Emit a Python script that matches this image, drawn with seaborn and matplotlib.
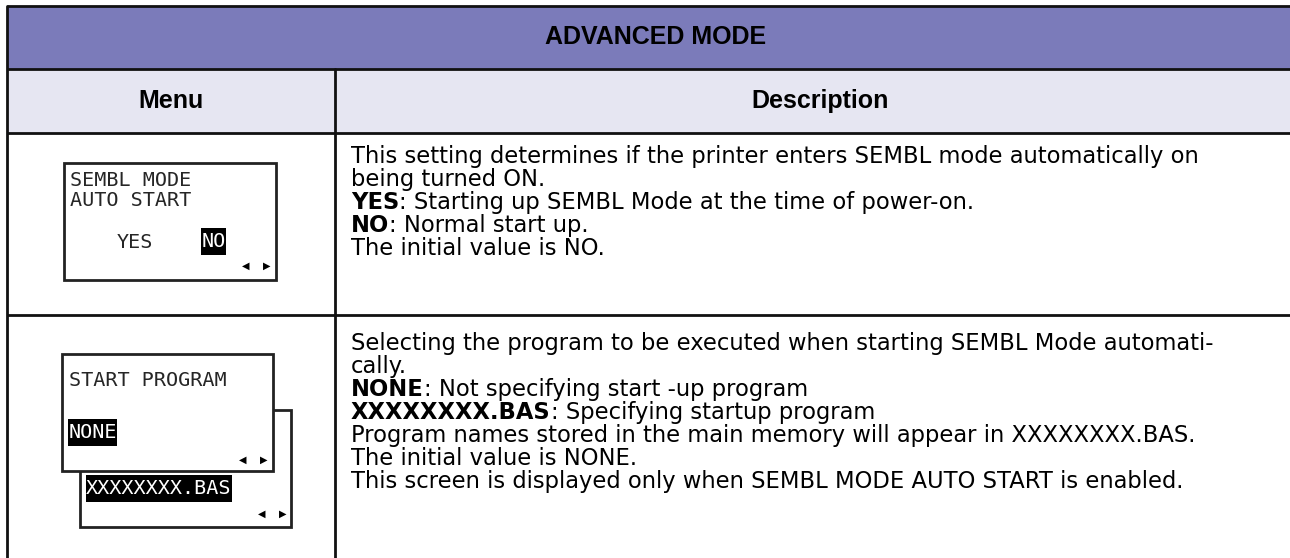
import matplotlib
matplotlib.use("Agg")
import matplotlib.pyplot as plt
from matplotlib.patches import Rectangle
import seaborn as sns

# table content
title = "ADVANCED MODE"
col_headers = ["Menu", "Description"]

lcd1_lines = ["SEMBL MODE", "AUTO START"]
lcd1_options = ["YES", "NO"]
desc1 = [
    ("", "This setting determines if the printer enters SEMBL mode automatically on"),
    ("", "being turned ON."),
    ("YES", ": Starting up SEMBL Mode at the time of power-on."),
    ("NO", ": Normal start up."),
    ("", "The initial value is NO."),
]

lcd2_title = "START PROGRAM"
lcd2_options = ["NONE", "XXXXXXXX.BAS"]
desc2 = [
    ("", "Selecting the program to be executed when starting SEMBL Mode automati-"),
    ("", "cally."),
    ("NONE", ": Not specifying start -up program"),
    ("XXXXXXXX.BAS", ": Specifying startup program"),
    ("", "Program names stored in the main memory will appear in XXXXXXXX.BAS."),
    ("", "The initial value is NONE."),
    ("", "This screen is displayed only when SEMBL MODE AUTO START is enabled."),
]

TITLE_BG = "#7B7BBA"
HEAD_BG = "#E6E6F2"
LINE = "#111111"

sns.set_theme(style="white")
plt.rcParams["font.family"] = ["Liberation Sans", "DejaVu Sans"]

fig = plt.figure(figsize=(12.9, 5.58), dpi=100)
ax = fig.add_axes([0, 0, 1, 1])
ax.set_xlim(0, 1290)
ax.set_ylim(558, 0)
ax.axis("off")

# table frame
left, right, top = 7, 1305, 6
y_title, y_head, y_row1, bottom = 69, 133, 315, 600
x_div = 335
ax.add_patch(Rectangle((left, top), right - left, y_title - top, facecolor=TITLE_BG, edgecolor="none"))
ax.add_patch(Rectangle((left, y_title), right - left, y_head - y_title, facecolor=HEAD_BG, edgecolor="none"))
lw = 2.0
for y in [top, y_title, y_head, y_row1]:
    ax.plot([left, right], [y, y], color=LINE, lw=lw, solid_capstyle="butt")
ax.plot([left, left], [top, bottom], color=LINE, lw=lw)
ax.plot([x_div, x_div], [y_title, bottom], color=LINE, lw=lw)

head_kw = dict(fontsize=18, fontweight="bold", color="black", ha="center", va="center")
ax.text(656, 37, title, **head_kw)
ax.text(171, 101, col_headers[0], **head_kw)
ax.text(820, 101, col_headers[1], **head_kw)

# description text with bold prefixes
fig.canvas.draw()
renderer = fig.canvas.get_renderer()
desc_kw = dict(fontsize=16.3, family="DejaVu Sans", color="black", ha="left", va="baseline")


def draw_desc(lines, x, y0, step):
    for i, (bold, rest) in enumerate(lines):
        y = y0 + i * step
        xx = x
        if bold:
            t = ax.text(x, y, bold, fontweight="bold", **desc_kw)
            bb = t.get_window_extent(renderer=renderer)
            xx = ax.transData.inverted().transform((bb.x1, 0))[0]
        ax.text(xx, y, rest, **desc_kw)


draw_desc(desc1, 351, 163, 23)
draw_desc(desc2, 351, 350, 23)

# LCD screens
lcd_kw = dict(fontsize=14.5, family="DejaVu Sans Mono", va="center")
box_kw = dict(facecolor="white", edgecolor="#222222", lw=2.0)
arrow_kw = dict(fontsize=7, family="DejaVu Sans", ha="center", va="center", color="black")


def arrows(x1, x2, y):
    ax.text(x1, y, "\u25C0", **arrow_kw)
    ax.text(x2, y, "\u25B6", **arrow_kw)


def highlight(x0, x1, y0, y1, label):
    ax.add_patch(Rectangle((x0, y0), x1 - x0, y1 - y0, facecolor="black", edgecolor="none"))
    ax.text((x0 + x1) / 2, (y0 + y1) / 2, label, color="white", ha="center", **lcd_kw)


ax.add_patch(Rectangle((64, 163), 212, 117, **box_kw))
ax.text(70, 181, lcd1_lines[0], ha="left", **lcd_kw)
ax.text(70, 201, lcd1_lines[1], ha="left", **lcd_kw)
ax.text(135, 242, lcd1_options[0], ha="center", **lcd_kw)
highlight(201, 226, 228, 255, lcd1_options[1])
arrows(246, 267, 266)

ax.add_patch(Rectangle((80, 410), 211, 117, **box_kw))
ax.add_patch(Rectangle((62, 354), 211, 117, **box_kw))
ax.text(69, 380, lcd2_title, ha="left", **lcd_kw)
highlight(68, 117, 419, 446, lcd2_options[0])
arrows(243, 264, 460)
highlight(86, 232, 475, 502, lcd2_options[1])
arrows(262, 283, 514)

fig.savefig("out.png", dpi=100)
